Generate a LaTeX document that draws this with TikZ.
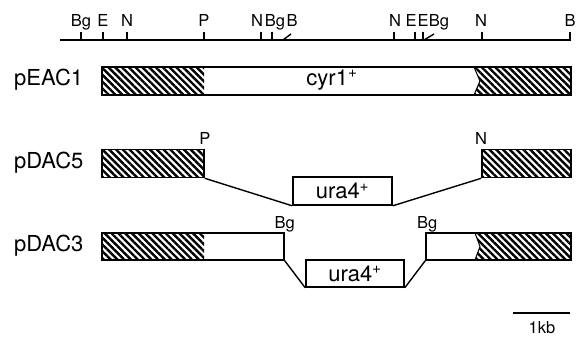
\documentclass[tikz,border=0pt]{standalone}
\usepackage{fontspec}
\setmainfont{TeX Gyre Heros}
\usetikzlibrary{patterns.meta}
\newcommand{\bigfont}{\fontsize{22}{22}\selectfont}
\newcommand{\sitefont}{\fontsize{16.5}{16.5}\selectfont}

\tikzset{
  hatch/.style={pattern={Lines[angle=-45,distance=4.8pt,line width=2.4pt]}},
  outline/.style={draw, line width=1.6pt},
  block/.style={outline, hatch, inner sep=0pt, minimum height=28pt},
  gene/.style={outline, fill=white, inner sep=0pt, minimum height=28pt, font=\bigfont},
  site/.style={anchor=base, inner sep=0pt, font=\sitefont},
  plasmid/.style={anchor=west, inner sep=0pt, font=\bigfont},
  link/.style={line width=1.4pt}
}

\begin{document}
\begin{tikzpicture}[x=1pt,y=1pt]
  \useasboundingbox (0,0) rectangle (576,339);

  % restriction map
  \coordinate (mapL) at (60,299);
  \coordinate (mapR) at (571,299);
  \draw[link] (mapL) -- (mapR);
  \foreach \x in {81,103,127,204,261,272,394,415,423,482,570}
    \draw[link] (\x,299) -- ++(0,8);
  \draw[link] (283,299) -- ++(8,6);
  \draw[link] (424,299) -- ++(10,6);
  \foreach \x/\t in {81/Bg,103/E,127/N,204/P,257/N,275/Bg,292/B,395/N,411/E,423/E,439/Bg,481/N,570/B}
    \node[site] at (\x,312) {\t};

  % pEAC1
  \node[plasmid] (nEAC) at (14,259) {pEAC1};
  \fill[hatch] (102,244) rectangle (204,272);
  \fill[hatch] (474,272) -- (571,272) -- (571,244) -- (474,244) -- (480,258) -- cycle;
  \node[outline, inner sep=0pt, minimum width=469pt, minimum height=28pt] (eac) at (336.5,258) {};
  \draw[line width=1pt] (474,272) -- (480,258) -- (474,244);
  \node[font=\bigfont] (cyr) at (332,259) {cyr1\textsuperscript{+}};

  % pDAC5
  \node[plasmid] (nDAC5) at (14,176) {pDAC5};
  \node[block, minimum width=102pt] (d5L) at (153,175.5) {};
  \node[block, minimum width=89pt] (d5R) at (526.5,175.5) {};
  \node[gene, minimum width=99pt] (d5U) at (342.5,148) {ura4\textsuperscript{+}};
  \node[site] (sP) at (d5L.north east) [yshift=4pt] {P};
  \node[site] (sN) at (d5R.north west) [yshift=4pt] {N};
  \draw[link] (d5L.south east) -- (d5U.south west);
  \draw[link] (d5U.south east) -- (d5R.south west);

  % pDAC3
  \node[plasmid] (nDAC3) at (14,93) {pDAC3};
  \fill[hatch] (102,79) rectangle (204,106);
  \fill[hatch] (475,106) -- (571,106) -- (571,79) -- (475,79) -- (480,92.5) -- cycle;
  \node[outline, inner sep=0pt, minimum width=182pt, minimum height=27pt] (d3L) at (193,92.5) {};
  \node[outline, inner sep=0pt, minimum width=145pt, minimum height=27pt] (d3R) at (498.5,92.5) {};
  \draw[line width=1pt] (475,106) -- (480,92.5) -- (475,79);
  \node[gene, minimum width=98pt, minimum height=27pt] (d3U) at (355,65.5) {ura4\textsuperscript{+}};
  \node[site] (sBg1) at (d3L.north east) [yshift=4pt] {Bg};
  \node[site] (sBg2) at (d3R.north west) [yshift=4pt, xshift=2pt] {Bg};
  \draw[link] (d3L.south east) -- (d3U.south west);
  \draw[link] (d3U.south east) -- (d3R.south west);

  % scale bar
  \coordinate (barL) at (513,26);
  \coordinate (barR) at (570,26);
  \draw[link] (barL) -- (barR);
  \node[font=\sitefont] (kb) at (542,11) {1kb};
\end{tikzpicture}
\end{document}
